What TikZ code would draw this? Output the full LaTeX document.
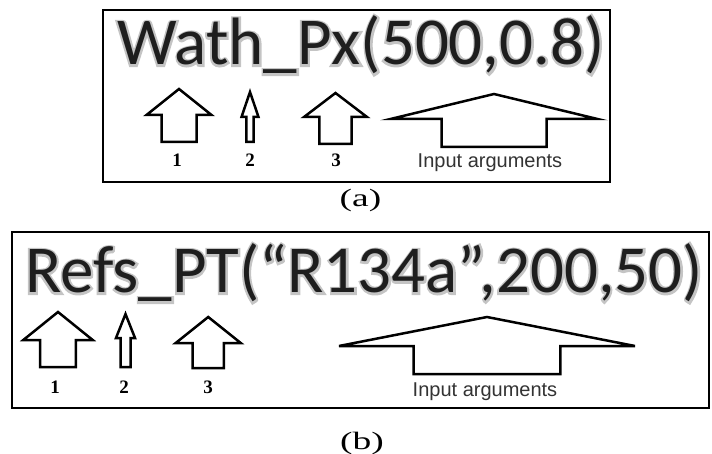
\documentclass[tikz,border=0pt]{standalone}
\usepackage{fontspec}
\setmainfont{Liberation Serif}
\newfontfamily\titlefont{Carlito}
\newfontfamily\halofont{Carlito}[FakeBold=6]
\newfontfamily\argfont{Liberation Sans}
\usetikzlibrary{positioning}
\definecolor{tgray}{HTML}{1E1E1E}
\definecolor{halo}{HTML}{C4C4C4}
\tikzset{
  frame/.style={draw=black, line width=2.6pt},
  callname/.style={anchor=base, inner sep=0pt, text=tgray,
                   font=\titlefont\fontsize{67}{72}\selectfont},
  callhalo/.style={callname, text=halo, font=\halofont\fontsize{67}{72}\selectfont},
  argno/.style={font=\bfseries\fontsize{19}{20}\selectfont},
  arglabel/.style={font=\argfont\fontsize{20}{22}\selectfont, text=black!80},
  caption/.style={font=\fontsize{25}{27}\selectfont},
  uparrow/.style={draw=black, line width=2.5pt, line join=miter, fill=white},
}
% hollow up arrow: x, tip y, head half width, head base y, shaft half width, bottom y
\newcommand{\hollowup}[6]{%
  \draw[uparrow] (#1,#2) -- (#1+#3,#4) -- (#1+#5,#4) -- (#1+#5,#6)
    -- (#1-#5,#6) -- (#1-#5,#4) -- (#1-#3,#4) -- cycle;
}

\begin{document}
\begin{tikzpicture}[x=1pt, y=-1pt]
  \useasboundingbox (0,0) rectangle (712,454);

  % (a)
  \draw[frame] (103,10) rectangle (610,182);
  \node[callhalo] (haloA) at (361,65) {Wath\_Px(500,0.8)};
  \node[callname] (callA) at (361,65) {Wath\_Px(500,0.8)};

  \hollowup{179}{89}{32.5}{115}{17.5}{142}
  \hollowup{250}{92}{8.5}{117}{3.7}{142}
  \hollowup{335.5}{93}{31.5}{117}{16.2}{144}
  \hollowup{494}{94}{103.5}{119}{52.5}{147}

  \node[argno] (oneA) at (177,160) {1};
  \node[argno] (twoA) at (250,160) {2};
  \node[argno] (threeA) at (336,160) {3};
  \node[arglabel] (inA) at (490,163) {Input arguments};

  \node[caption] (capA) at (360.5,200) {\scalebox{1.5}[1]{(a)}};

  % (b)
  \draw[frame, line width=2.3pt] (12,232) rectangle (709,408);
  \node[callhalo] (haloB) at (364,293) {Refs\_PT(“R134a”,200,50)};
  \node[callname] (callB) at (364,293) {Refs\_PT(“R134a”,200,50)};

  \hollowup{58}{312}{34.7}{340}{17.8}{367}
  \hollowup{125.5}{314}{9.5}{338}{5}{367}
  \hollowup{208.2}{317}{32.5}{343}{15.7}{368}
  \hollowup{487}{317}{148}{346}{73.3}{374}

  \node[argno] (oneB) at (55,387) {1};
  \node[argno] (twoB) at (124,387) {2};
  \node[argno] (threeB) at (208,387) {3};
  \node[arglabel] (inB) at (485,392) {Input arguments};

  \node[caption] (capB) at (362,443) {\scalebox{1.5}[1]{(b)}};

\end{tikzpicture}
\end{document}
